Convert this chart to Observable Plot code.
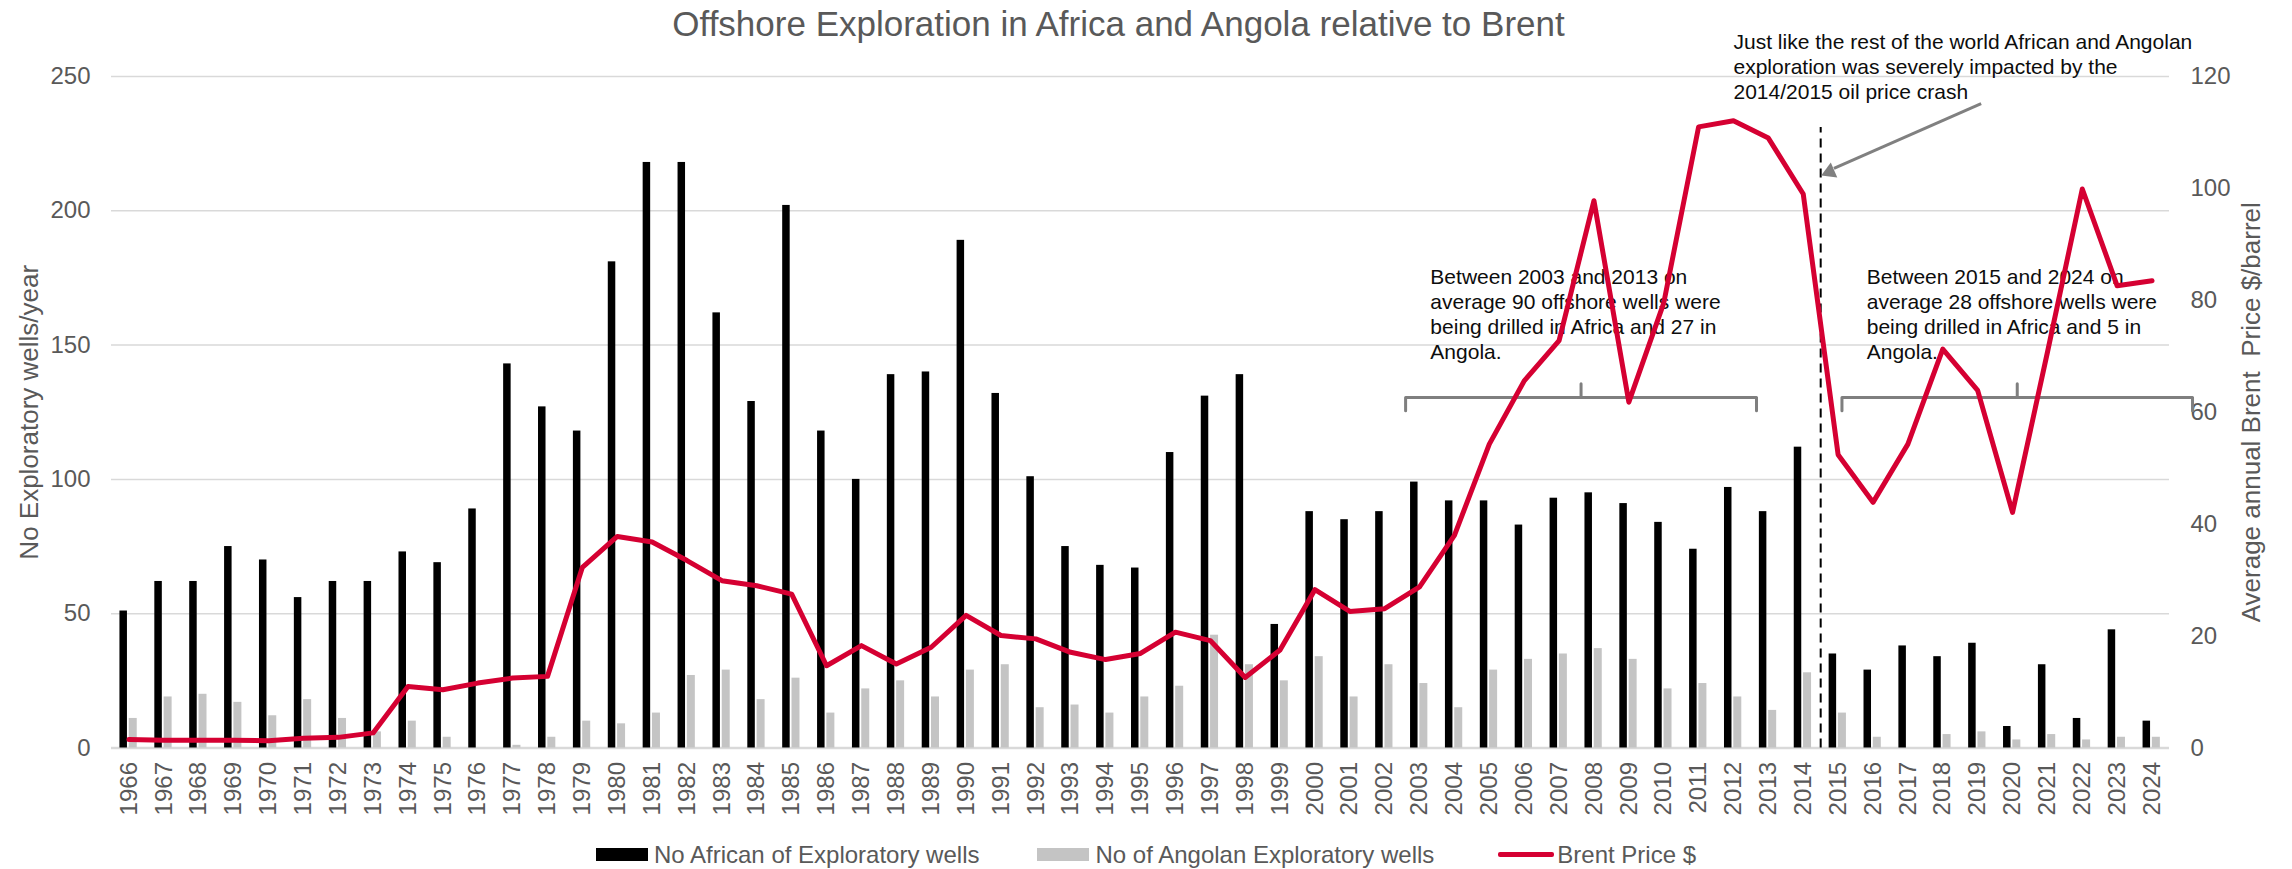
<!DOCTYPE html>
<html><head><meta charset="utf-8">
<script src="https://cdn.jsdelivr.net/npm/d3@7"></script>
<script src="https://cdn.jsdelivr.net/npm/@observablehq/plot@0.6"></script>
<style>
body{margin:0;background:#fff;}
#wrap{position:relative;width:2292px;height:869px;font-family:"Liberation Sans",Arial,Helvetica,sans-serif;background:#fff;}
#legend{position:absolute;left:596px;top:842.7px;display:flex;align-items:center;font-size:24px;line-height:24px;color:#595959;white-space:nowrap;}
#legend .sw{display:inline-block;width:52px;height:13px;margin-right:6px;}
#legend .ln{display:inline-block;width:56px;height:5px;margin-right:3px;background:#d50032;border-radius:2px;}
</style></head><body>
<div id="wrap"><div id="chart"></div><div id="legend"></div></div>
<script>
const years = [1966,1967,1968,1969,1970,1971,1972,1973,1974,1975,1976,1977,1978,1979,1980,1981,1982,1983,1984,1985,1986,1987,1988,1989,1990,1991,1992,1993,1994,1995,1996,1997,1998,1999,2000,2001,2002,2003,2004,2005,2006,2007,2008,2009,2010,2011,2012,2013,2014,2015,2016,2017,2018,2019,2020,2021,2022,2023,2024];
const africaWells = [51,62,62,75,70,56,62,62,73,69, 89,143,127,118,181,218,218,162,129,202, 118,100,139,140,189,132,101,75,68,67, 110,131,139,46,88,85,88,99,92,92, 83,93,95,91,84,74,97,88,112,35, 29,38,34,39,8,31,11,44,10];
const angolaWells = [11,19,20,17,12,18,11,6,10,4, 0,1,4,10,9,13,27,29,18,26, 13,22,25,19,29,31,15,16,13,19, 23,42,31,25,34,19,31,24,15,29, 33,35,37,33,22,24,19,14,28,13, 4,0,5,6,3,5,3,4,4];
const brentPrice = [1.5,1.4,1.4,1.4,1.3,1.75,1.9,2.7,11.0,10.4, 11.6,12.5,12.8,32.3,37.8,36.8,33.5,29.9,29.0,27.5, 14.7,18.3,15.0,18.0,23.7,20.1,19.5,17.1,15.8,16.9, 20.7,19.2,12.6,17.5,28.3,24.4,24.9,28.8,38.0,54.3, 65.6,72.8,97.8,61.8,79.5,111.0,112.1,109.0,99.0,52.4, 43.9,54.3,71.3,63.9,42.1,70.7,99.9,82.6,83.5];
const leftTicks = [0,50,100,150,200,250];
const rightTicks = [0,20,40,60,80,100,120];
const seriesNames = ["No African of Exploratory wells","No of Angolan Exploratory wells","Brent Price $"];
const titleText = "Offshore Exploration in Africa and Angola relative to Brent";
const leftTitle = "No Exploratory wells/year";
const rightTitle = "Average annual Brent  Price $/barrel";

// annotations (x in years, y in left-axis units)
const notes = [
  {x: 2003.31, y: 179.5, text: "Between 2003 and 2013 on\naverage 90 offshore wells were\nbeing drilled in Africa and 27 in\nAngola."},
  {x: 2015.82, y: 179.5, text: "Between 2015 and 2024 on\naverage 28 offshore wells were\nbeing drilled in Africa and 5 in\nAngola."},
  {x: 2012.0, y: 266.9, text: "Just like the rest of the world African and Angolan\nexploration was severely impacted by the\n2014/2015 oil price crash"}
];
const brackets = [
  {id: "a", x1: 2002.6, x2: 2012.66, level: 130.5, low: 125.6, high: 135.6},
  {id: "b", x1: 2015.11, x2: 2025.16, level: 130.5, low: 125.6, high: 135.6}
];
const crashDivider = {x: 2014.5, top: 231};
const arrowShaft = {x1: 2019.1, y1: 239.9, x2: 2014.88, y2: 215.8};
const arrowHead = {x: 2014.76, y: 214.5, rotate: 246.3};

const leftMax = 250, rightMax = 120;
const rows = years.map((year, i) => ({year, africa: africaWells[i], angola: angolaWells[i], brent: brentPrice[i]}));
const bracketPts = brackets.flatMap(b => {
  const mid = (b.x1 + b.x2) / 2;
  return [[b.x1,b.low],[b.x1,b.level],[mid,b.level],[mid,b.high],[mid,b.level],[b.x2,b.level],[b.x2,b.low]]
    .map(([x, y]) => ({id: b.id, x, y}));
});

const W = 2292, H = 869, ML = 111, MR = 123, MT = 76, MB = 121.5;
const step = (W - ML - MR) / years.length;
const font = '"Liberation Sans", Arial, Helvetica, sans-serif';

const chart = Plot.plot({
  width: W, height: H,
  marginLeft: ML, marginRight: MR, marginTop: MT, marginBottom: MB,
  style: {fontFamily: font, fontSize: "24px", color: "#595959", background: "#fff", overflow: "visible"},
  x: {domain: [years[0] - 0.5, years[years.length - 1] + 0.5]},
  y: {domain: [0, leftMax]},
  marks: [
    Plot.gridY(leftTicks, {stroke: "#d9d9d9", strokeOpacity: 1, strokeWidth: 1.5}),
    Plot.ruleY([0], {stroke: "#d9d9d9", strokeWidth: 2.5}),
    Plot.rect(rows, {x1: d => d.year - 0.5, x2: d => d.year + 0.5, y1: 0, y2: "africa", fill: "#000",
      insetLeft: step / 2 - 9, insetRight: step / 2 + 1.5}),
    Plot.rect(rows, {x1: d => d.year - 0.5, x2: d => d.year + 0.5, y1: 0, y2: "angola", fill: "#c4c4c4",
      insetLeft: step / 2 + 0.3, insetRight: step / 2 - 8.3}),
    Plot.axisX(years, {anchor: "bottom", tickSize: 0, tickPadding: 14, tickRotate: -90, textAnchor: "end",
      tickFormat: d => String(d), fontSize: 24, fill: "#595959", label: null}),
    Plot.axisY(leftTicks, {anchor: "left", tickSize: 0, tickPadding: 21, tickFormat: d => String(d),
      fontSize: 24, fill: "#595959", label: null}),
    Plot.axisY(rightTicks, {anchor: "right", y: d => d * leftMax / rightMax, tickSize: 0, tickPadding: 21,
      tickFormat: d => String(d), fontSize: 24, fill: "#595959", label: null}),
    Plot.text([titleText], {text: d => d, frameAnchor: "top", dx: -22, dy: -41, lineAnchor: "bottom",
      fontSize: 35, fill: "#595959"}),
    Plot.text([leftTitle], {text: d => d, frameAnchor: "left", dx: -74, rotate: -90, lineAnchor: "bottom",
      textAnchor: "middle", fontSize: 26, fill: "#595959"}),
    Plot.text([rightTitle], {text: d => d, frameAnchor: "right", dx: 90, rotate: -90, lineAnchor: "bottom",
      textAnchor: "middle", fontSize: 26, fill: "#595959"}),
    Plot.text(notes, {x: "x", y: "y", text: "text", textAnchor: "start", lineAnchor: "top",
      lineHeight: 1.19, fontSize: 21, fill: "#0d0d0d"}),
    Plot.line(bracketPts, {x: "x", y: "y", z: "id", stroke: "#7f7f7f", strokeWidth: 3, strokeLinejoin: "round"}),
    Plot.ruleX([crashDivider], {x: "x", y1: 0, y2: "top", stroke: "#000", strokeWidth: 2, strokeDasharray: "9,6"}),
    Plot.link([arrowShaft], {x1: "x1", y1: "y1", x2: "x2", y2: "y2", stroke: "#808080", strokeWidth: 3}),
    Plot.dot([arrowHead], {x: "x", y: "y", symbol: "triangle", r: 6, rotate: "rotate", fill: "#808080", stroke: "none"}),
    Plot.line(rows, {x: "year", y: d => d.brent * leftMax / rightMax, stroke: "#d50032", strokeWidth: 5,
      strokeLinejoin: "round", strokeLinecap: "round"})
  ]
});
document.getElementById("chart").appendChild(chart);

const legend = document.getElementById("legend");
const items = [
  {kind: "sw", color: "#000", gap: 58},
  {kind: "sw", color: "#c4c4c4", gap: 64},
  {kind: "ln", color: "#d50032", gap: 0}
];
items.forEach((it, i) => {
  const sw = document.createElement("span");
  sw.className = it.kind;
  sw.style.background = it.color;
  legend.appendChild(sw);
  const t = document.createElement("span");
  t.textContent = seriesNames[i];
  t.style.marginRight = it.gap + "px";
  legend.appendChild(t);
});
</script>
</body></html>
